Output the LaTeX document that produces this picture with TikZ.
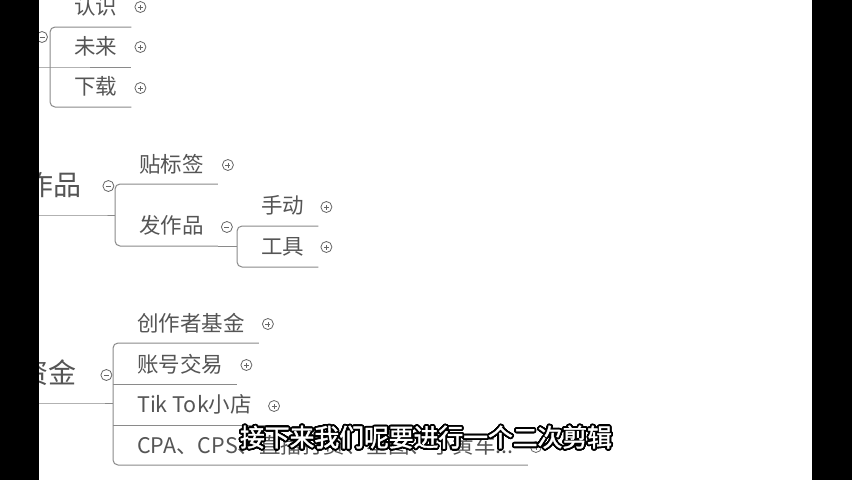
\documentclass[tikz,border=0pt]{standalone}
\usepackage{fontspec}
\setmainfont{Noto Sans CJK SC}
\newfontfamily\cjk{Noto Sans CJK SC}
\newfontfamily\cjkbold[FakeBold=1.6]{Noto Sans CJK SC}
\usepackage{contour}
\contourlength{1.8pt}
\contournumber{32}
\usetikzlibrary{calc}
\definecolor{txt}{HTML}{555555}
\definecolor{ln}{HTML}{8A8A8A}
\definecolor{btnc}{HTML}{666666}
\newcommand\lf[1]{\hspace*{24pt}#1\hspace*{14pt}}
\tikzset{
  leaf/.style={inner sep=0, anchor=south west, minimum height=40pt, text=txt,
    font=\cjk\fontsize{21.5}{22}\selectfont},
  rootnode/.style={inner sep=0, anchor=south west, minimum height=60pt, text=txt,
    font=\cjk\fontsize{28}{29}\selectfont},
  conn/.style={draw=ln, line width=1pt},
  brk/.style={conn, rounded corners=5pt},
  btn/.style={circle, draw=btnc, line width=0.8pt, inner sep=0, minimum size=11pt, fill=white},
  plusbtn/.style={btn, path picture={
      \draw[btnc, line width=0.7pt]
        ([xshift=-2.5pt]path picture bounding box.center) -- ([xshift=2.5pt]path picture bounding box.center)
        ([yshift=-2.5pt]path picture bounding box.center) -- ([yshift=2.5pt]path picture bounding box.center);}},
  minusbtn/.style={btn, path picture={
      \draw[btnc, line width=0.7pt]
        ([xshift=-2.5pt]path picture bounding box.center) -- ([xshift=2.5pt]path picture bounding box.center);}},
  subtitle/.style={inner sep=0, text=white, font=\cjkbold\fontsize{24.8}{26}\selectfont},
}
\begin{document}
\begin{tikzpicture}[x=1pt,y=-1pt]
\useasboundingbox (0,0) rectangle (852,480);
\fill[white] (0,0) rectangle (852,480);

% ---- group 1 ----
\node[leaf] (rs) at (50,27) {\lf{认识}};
\node[leaf] (wl) at (50,67) {\lf{未来}};
\node[leaf] (xz) at (50,107) {\lf{下载}};
\coordinate (p1) at (20,67);
\draw[brk] (rs.south east) -- (rs.south west) -- (xz.south west) -- (xz.south east);
\draw[conn] (p1) -- (wl.south west) -- (wl.south east);
\node[minusbtn] (m1) at (42,37) {};
\node[plusbtn] (brs) at ($(rs.south east)+(9,-20)$) {};
\node[plusbtn] (bwl) at ($(wl.south east)+(9,-20)$) {};
\node[plusbtn] (bxz) at ($(xz.south east)+(9,-19)$) {};

% ---- group 2 ----
\node[rootnode] (zp) at (25,215) {作品\hspace*{19pt}};
\node[leaf] (btq) at (115,184) {\lf{贴标签}};
\node[leaf] (fzp) at (115,246) {\lf{发作品}};
\node[leaf] (sd) at (237,226) {\lf{手动}};
\node[leaf] (gj) at (237,267) {\lf{工具}};
\draw[conn] (zp.south west) -- (zp.south east) -- (zp.south east -| btq.south west);
\draw[brk] (btq.south east) -- (btq.south west) -- (fzp.south west) -- (fzp.south east);
\draw[conn] (fzp.south east) -- (fzp.south east -| sd.south west);
\draw[brk] (sd.south east) -- (sd.south west) -- (gj.south west) -- (gj.south east);
\node[minusbtn] (m2) at ($(zp.south east)+(8,-29)$) {};
\node[plusbtn] (bbtq) at ($(btq.south east)+(10,-19)$) {};
\node[minusbtn] (m3) at ($(fzp.south east)+(9,-19)$) {};
\node[plusbtn] (bsd) at ($(sd.south east)+(8,-19)$) {};
\node[plusbtn] (bgj) at ($(gj.south east)+(8,-20)$) {};

% ---- group 3 ----
\node[rootnode] (jp) at (20,403) {资金\hspace*{21pt}};
\node[leaf] (cz) at (113,343) {\lf{创作者基金}};
\node[leaf] (zh) at (113,384) {\lf{账号交易}};
\node[leaf] (tk) at (113,425) {\lf{Tik Tok小店}};
\node[leaf] (cpa) at (113,465) {\lf{CPA、CPS、直播打赏、星图、小黄车...}};
\draw[conn] (jp.south west) -- (jp.south east) -- (jp.south east -| cz.south west);
\draw[brk] (cz.south east) -- (cz.south west) -- (cpa.south west) -- (cpa.south east);
\draw[conn] (zh.south west) -- (zh.south east);
\draw[conn] (tk.south west) -- (tk.south east);
\node[minusbtn] (m4) at ($(jp.south east)+(9,-28)$) {};
\node[plusbtn] (bcz) at ($(cz.south east)+(9,-19)$) {};
\node[plusbtn] (bzh) at ($(zh.south east)+(9,-19)$) {};
\node[plusbtn] (btk) at ($(tk.south east)+(8,-19)$) {};
\node[plusbtn] (bcpa) at ($(cpa.south east)+(8,-18)$) {};

% ---- subtitle ----
\node[subtitle] (sub) at (426,438) {\contour{black}{接下来我们呢要进行一个二次剪辑}};

% ---- black side bars ----
\fill[black] (0,0) rectangle (39,480);
\fill[black] (812,0) rectangle (852,480);
\end{tikzpicture}
\end{document}
